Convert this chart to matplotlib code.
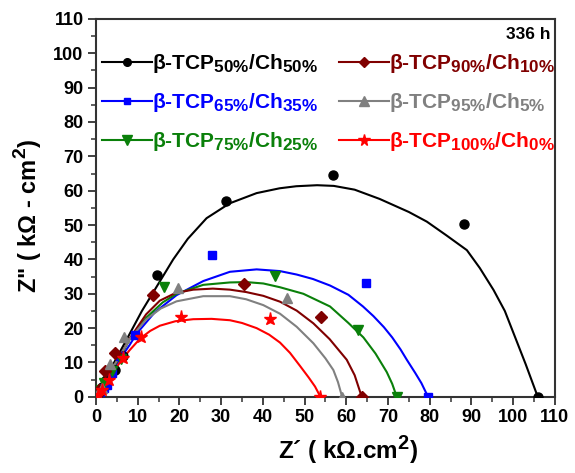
import matplotlib
matplotlib.use("Agg")
import matplotlib.pyplot as plt
import matplotlib._mathtext as _mt
from matplotlib.lines import Line2D
from matplotlib.ticker import MultipleLocator

_mt.SHRINK_FACTOR = 0.82  # larger sub/superscripts, like the reference

plt.rcParams['font.family'] = ['Liberation Sans', 'DejaVu Sans']
plt.rcParams['font.weight'] = 'bold'
plt.rcParams['mathtext.fontset'] = 'custom'
plt.rcParams['mathtext.rm'] = 'Liberation Sans:bold'
plt.rcParams['mathtext.bf'] = 'Liberation Sans:bold'
plt.rcParams['mathtext.default'] = 'rm'

# ---------------- data ----------------
labels = [r'β-TCP$_{50\%}$/Ch$_{50\%}$', r'β-TCP$_{65\%}$/Ch$_{35\%}$',
          r'β-TCP$_{75\%}$/Ch$_{25\%}$', r'β-TCP$_{90\%}$/Ch$_{10\%}$',
          r'β-TCP$_{95\%}$/Ch$_{5\%}$', r'β-TCP$_{100\%}$/Ch$_{0\%}$']
colors = ['black', '#0000ff', '#0a800a', '#800000', '#808080', '#ff0000']
markers = ['o', 's', 'v', 'D', '^', '*']

# measured points
pts_x_50 = [0.3, 0.8, 1.5, 2.5, 4.6, 6.5, 14.7, 31.2, 56.9, 88.2, 105.9]
pts_y_50 = [0.5, 1.5, 3.0, 5.0, 7.8, 12.0, 35.5, 57.1, 64.6, 50.2, 0.0]
pts_x_65 = [0.3, 1.0, 1.8, 2.6, 3.8, 5.8, 9.4, 27.7, 64.8, 79.6]
pts_y_65 = [0.5, 1.5, 2.5, 3.5, 6.9, 11.9, 18.0, 41.3, 33.2, 0.0]
pts_x_75 = [0.3, 1.0, 2.0, 3.8, 6.0, 16.3, 42.8, 62.9, 72.1]
pts_y_75 = [0.5, 2.0, 4.0, 7.4, 11.0, 32.1, 35.1, 19.5, 0.0]
pts_x_90 = [0.3, 0.8, 2.2, 4.6, 13.7, 35.5, 53.9, 63.7]
pts_y_90 = [0.5, 2.0, 7.4, 12.7, 29.7, 32.8, 23.1, 0.0]
pts_x_95 = [0.3, 1.4, 3.4, 6.6, 19.7, 45.8, 59.0]
pts_y_95 = [0.5, 2.5, 9.6, 17.5, 31.8, 28.7, 0.0]
pts_x_100 = [0.5, 1.5, 3.0, 6.4, 10.7, 20.3, 41.7, 53.8]
pts_y_100 = [0.5, 2.0, 5.0, 11.4, 17.4, 23.3, 22.6, 0.0]

# fitted curves
fit_x_50 = [0, 3, 7.7, 11, 14.5, 18.5, 22, 26.5, 32, 38.5, 44, 48, 53, 57, 62,
            68, 75, 79.3, 84, 88.9, 92, 95.3, 98, 100.1, 103, 105.9]
fit_y_50 = [0, 7, 17.5, 25, 32, 40, 46, 52, 56.3, 59.3, 60.7, 61.3, 61.6, 61.4,
            60.3, 57.6, 53.8, 51, 47, 42.7, 37.5, 31.1, 25, 18.5, 9.5, 0]
fit_x_65 = [0, 2, 4, 6, 8, 9.8, 14, 19.3, 25.7, 32.1, 38.5, 44.1, 48.1, 52,
            56.1, 60.5, 64, 66.5, 69, 71, 73, 74.5, 76.5, 78, 79.6]
fit_y_65 = [0, 3.8, 7.8, 11.5, 15, 18.5, 24.5, 29.6, 33.7, 36.4, 37.1, 36.6,
            35.6, 34.3, 32.4, 29.7, 26.3, 23.5, 20.3, 17.3, 13.8, 10.8, 7, 4, 0]
fit_x_75 = [0, 2, 4, 6, 8.2, 12, 16, 19.3, 25.7, 32.1, 36, 40.1, 44.1, 49.7,
            56.1, 60.5, 64.1, 67, 69.7, 71, 72.1]
fit_y_75 = [0, 4, 8.2, 12.2, 17, 23, 27.5, 30, 32.6, 33.3, 33.4, 33, 31.9, 30,
            26.3, 21.5, 17.3, 12.6, 7.2, 3.8, 0]
fit_x_90 = [0, 2, 4, 6, 8.2, 12, 15.3, 19, 23.3, 28, 32.1, 36, 40.1, 44.1,
            48.1, 52.1, 56, 60.1, 62, 63.7]
fit_y_90 = [0, 4.2, 8.5, 12.5, 17.2, 24, 28, 30.2, 31.2, 31.5, 31.2, 30.5, 29.4,
            27.7, 25.1, 21.4, 16.8, 10.8, 6.3, 0]
fit_x_95 = [0, 2, 4, 6, 8.2, 12, 15.5, 19.3, 25.7, 32.1, 36, 40.1, 44.1, 48.1,
            52.1, 55, 56.9, 58, 59]
fit_y_95 = [0, 4.2, 8.5, 12.5, 17, 22.5, 25.7, 27.8, 29.3, 29.3, 28.4, 26.7,
            24.2, 20.4, 15.6, 11.2, 7.8, 4.3, 0]
fit_x_100 = [0, 2, 4, 6, 8, 10.6, 13, 15.3, 19, 23.3, 27.7, 32.1, 35, 38.5,
             41.5, 44.1, 46.5, 48.9, 51, 52.5, 53.8]
fit_y_100 = [0, 3.5, 7, 10.5, 13.5, 17, 19.2, 20.7, 22, 22.6, 22.7, 22.3, 21.5,
             20, 18.1, 15.8, 12.8, 9, 5.6, 3, 0]

xticks = [0, 10, 20, 30, 40, 50, 60, 70, 80, 90, 100, 110]
yticks = [0, 10, 20, 30, 40, 50, 60, 70, 80, 90, 100, 110]

pts_x = [pts_x_50, pts_x_65, pts_x_75, pts_x_90, pts_x_95, pts_x_100]
pts_y = [pts_y_50, pts_y_65, pts_y_75, pts_y_90, pts_y_95, pts_y_100]
fit_x = [fit_x_50, fit_x_65, fit_x_75, fit_x_90, fit_x_95, fit_x_100]
fit_y = [fit_y_50, fit_y_65, fit_y_75, fit_y_90, fit_y_95, fit_y_100]

# ---------------- figure ----------------
fig = plt.figure(figsize=(5.75, 4.73), dpi=100)
ax = fig.add_axes([0.167, 0.161, 0.798, 0.799])

msizes = [6.5, 6, 7.5, 6, 7.5, 9.5]
handles = []
for i in range(6):
    ax.plot(fit_x[i], fit_y[i], color=colors[i], lw=1.5, zorder=2,
            solid_joinstyle='round')
    ax.plot(pts_x[i], pts_y[i], linestyle='none', marker=markers[i],
            color=colors[i], markersize=msizes[i], zorder=3)
    handles.append(Line2D([], [], color=colors[i], lw=1.5, marker=markers[i],
                          markersize=msizes[i] - 1))

ax.set_xlim(0, 110)
ax.set_ylim(0, 110)
ax.set_xticks(xticks)
ax.set_yticks(yticks)
ax.xaxis.set_minor_locator(MultipleLocator(5))
ax.yaxis.set_minor_locator(MultipleLocator(5))
ax.tick_params(which='major', direction='out', length=6, width=1.3,
               labelsize=13, top=False, right=False, colors='#333333',
               labelcolor='black', pad=3)
ax.tick_params(which='minor', direction='out', length=3.5, width=1.1,
               top=False, right=False, colors='#333333')
for lab in ax.get_xticklabels() + ax.get_yticklabels():
    lab.set_fontweight('bold')
for sp in ax.spines.values():
    sp.set_linewidth(1.5)
    sp.set_color('#333333')

ax.set_xlabel('Z´ ( kΩ.cm$^2$)', fontsize=17.5, fontweight='bold')
ax.xaxis.set_label_coords(0.549, -0.098)
ax.set_ylabel('Z" ( kΩ - cm$^2$)', fontsize=17, fontweight='bold')
ax.yaxis.set_label_coords(-0.114, 0.48)

ax.text(0.99, 0.978, '336 h', transform=ax.transAxes, ha='right', va='top',
        fontsize=12.5, fontweight='bold')

leg = ax.legend(handles, labels, ncol=2, loc='upper left',
                bbox_to_anchor=(-0.005, 0.935), frameon=False, fontsize=15,
                handlelength=2.4, handletextpad=0.0, columnspacing=1.0,
                labelspacing=0.78, borderaxespad=0.0)
for t, c in zip(leg.get_texts(), colors):
    t.set_color(c)
    t.set_fontweight('bold')

fig.savefig('out.png', dpi=100)
